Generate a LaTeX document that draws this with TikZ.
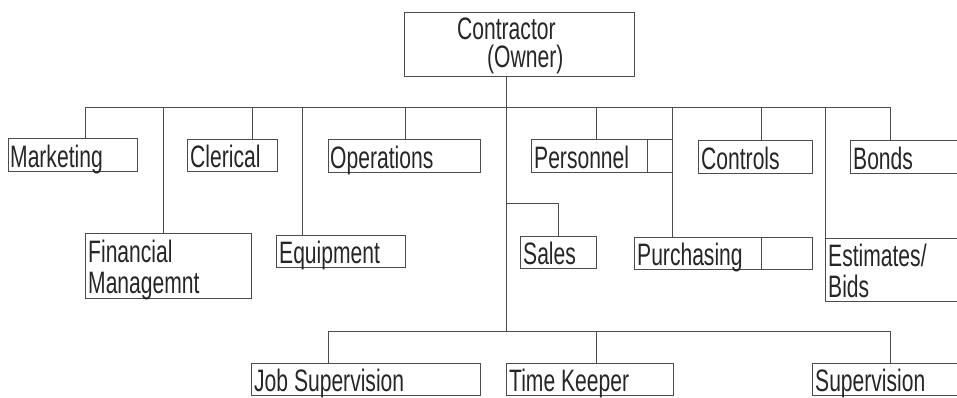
\documentclass[tikz,border=0pt]{standalone}
\usepackage{fontspec}
\setmainfont{Liberation Sans}[FakeStretch=0.68]
\tikzset{
  box/.style={draw=black!70, line width=0.9pt, rectangle, inner sep=0pt, outer sep=0pt, anchor=north west},
  lbl/.style={text=black!85, inner sep=0pt, anchor=base west, align=left, font=\fontsize{31}{31}\selectfont},
  conn/.style={draw=black!70, line width=0.9pt}
}
\begin{document}
\begin{tikzpicture}[x=1pt,y=-1pt]
\useasboundingbox (0,0) rectangle (957,397);
\clip (0,0) rectangle (957,397);
% boxes
\node[box, minimum width=230pt, minimum height=64pt] (ctr) at (404,12) {};
\node[box, minimum width=129pt, minimum height=33pt] (mkt) at (8,138) {};
\node[box, minimum width=166pt, minimum height=65pt] (fin) at (85,233) {};
\node[box, minimum width=90pt,  minimum height=32pt] (clr) at (187,139) {};
\node[box, minimum width=129pt, minimum height=32pt] (eqp) at (276,235) {};
\node[box, minimum width=152pt, minimum height=33pt] (ops) at (328,139) {};
\node[box, minimum width=141pt, minimum height=33pt] (per) at (531,139) {};
\node[box, minimum width=178pt, minimum height=32pt] (pur) at (634,237) {};
\node[box, minimum width=114pt, minimum height=33pt] (con) at (698,140) {};
\node[box, minimum width=150pt, minimum height=63pt] (est) at (825,238) {};
\node[box, minimum width=130pt, minimum height=33pt] (bon) at (850,140) {};
\node[box, minimum width=76pt,  minimum height=32pt] (sal) at (520,236) {};
\node[box, minimum width=229pt, minimum height=32pt] (job) at (251,363) {};
\node[box, minimum width=167pt, minimum height=32pt] (tim) at (506,363) {};
\node[box, minimum width=160pt, minimum height=32pt] (sup) at (812,363) {};
% dividers inside boxes
\draw[conn] (647,0 |- per.north) coordinate (pd1) -- (pd1 |- per.south);
\draw[conn] (761,0 |- pur.north) coordinate (pd2) -- (pd2 |- pur.south);
% labels
\node[lbl] at (457,39) {Contractor};
\node[lbl] at (487,67) {(Owner)};
\node[lbl] at ([shift={(2,-4)}]mkt.south west) {Marketing};
\node[lbl, anchor=north west] at ([shift={(3,7)}]fin.north west) {Financial\\Managemnt};
\node[lbl] at ([shift={(3,-4)}]clr.south west) {Clerical};
\node[lbl] at ([shift={(3,-4)}]eqp.south west) {Equipment};
\node[lbl] at ([shift={(2,-4)}]ops.south west) {Operations};
\node[lbl] at ([shift={(3,-4)}]per.south west) {Personnel};
\node[lbl] at ([shift={(3,-4)}]pur.south west) {Purchasing};
\node[lbl] at ([shift={(3,-4)}]con.south west) {Controls};
\node[lbl, anchor=north west] at ([shift={(3,6)}]est.north west) {Estimates/\\Bids};
\node[lbl] at ([shift={(3,-4)}]bon.south west) {Bonds};
\node[lbl] at ([shift={(3,-4)}]sal.south west) {Sales};
\node[lbl] at ([shift={(3,-4)}]job.south west) {Job Supervision};
\node[lbl] at ([shift={(3,-4)}]tim.south west) {Time Keeper};
\node[lbl] at ([shift={(3,-4)}]sup.south west) {Supervision};
% connector coordinates
\coordinate (T) at (506,107);
\coordinate (B) at (506,331);
\coordinate (dmkt) at (85,107);
\coordinate (dfin) at (163,107);
\coordinate (dclr) at (252,107);
\coordinate (deqp) at (302,107);
\coordinate (dops) at (405,107);
\coordinate (dper) at (596,107);
\coordinate (dpur) at (672,107);
\coordinate (dcon) at (761,107);
\coordinate (dest) at (825,107);
\coordinate (dbon) at (890,107);
\coordinate (S) at (506,203);
\coordinate (dsal) at (558,203);
\coordinate (djob) at (328,331);
\coordinate (dtim) at (596,331);
\coordinate (dsup) at (890,331);
% connectors
\draw[conn] (ctr.south -| T) -- (B);
\draw[conn] (dmkt) -- (dbon);
\draw[conn] (djob) -- (dsup);
\draw[conn] (dmkt) -- (dmkt |- mkt.north);
\draw[conn] (dfin) -- (dfin |- fin.north);
\draw[conn] (dclr) -- (dclr |- clr.north);
\draw[conn] (deqp) -- (deqp |- eqp.north);
\draw[conn] (dops) -- (dops |- ops.north);
\draw[conn] (dper) -- (dper |- per.north);
\draw[conn] (dpur) -- (dpur |- pur.north);
\draw[conn] (dcon) -- (dcon |- con.north);
\draw[conn] (dest) -- (dest |- est.north);
\draw[conn] (dbon) -- (dbon |- bon.north);
\draw[conn] (S) -- (dsal) -- (dsal |- sal.north);
\draw[conn] (djob) -- (djob |- job.north);
\draw[conn] (dtim) -- (dtim |- tim.north);
\draw[conn] (dsup) -- (dsup |- sup.north);
\end{tikzpicture}
\end{document}
